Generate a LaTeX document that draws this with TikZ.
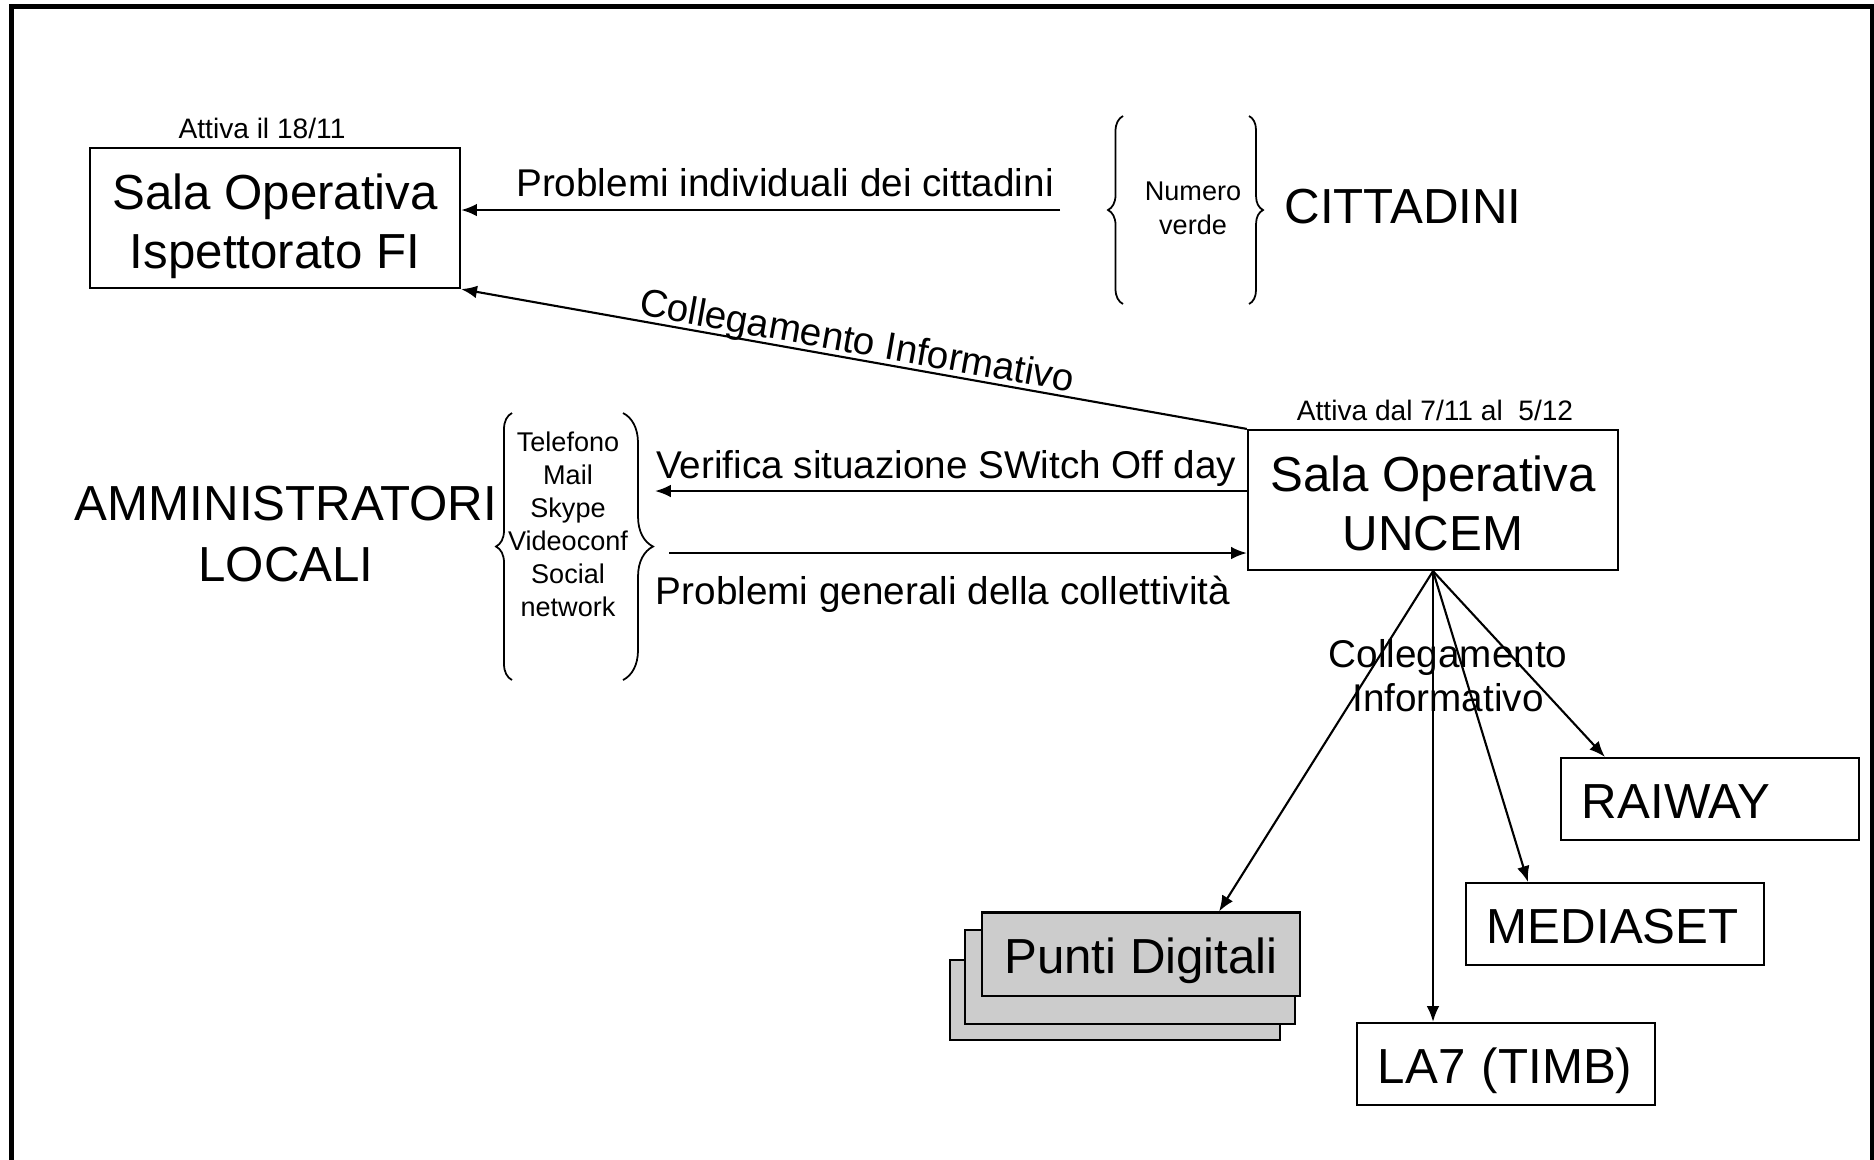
\documentclass[tikz,border=0pt]{standalone}
\usepackage{fontspec}
\setmainfont{Liberation Sans}
\usetikzlibrary{positioning,arrows.meta,decorations.pathreplacing}

\begin{document}
\begin{tikzpicture}[x=0.01cm,y=-0.01cm]
\tikzstyle{sala}=[rectangle, draw=black, line width=0.6pt, minimum width=3.7cm, minimum height=1.4cm, align=center, inner sep=0pt, text height=28.9pt, text depth=0pt, font=\fontsize{14}{17}\selectfont]
\tikzstyle{rete}=[rectangle, draw=black, line width=0.6pt, minimum height=0.82cm, text width=2.56cm, inner xsep=0.21cm, inner ysep=0pt, text height=10.8pt, text depth=0pt, align=left, font=\fontsize{14}{17}\selectfont]
\tikzstyle{punti}=[rectangle, draw=black, fill=black!20, line width=0.6pt, inner sep=0pt, text height=10.8pt, text depth=0pt, font=\fontsize{14}{17}\selectfont]
\tikzstyle{connect}=[-{Latex[length=4.5pt,width=3.6pt]}, line width=0.6pt]
\tikzstyle{big}=[align=center, inner sep=0pt, font=\fontsize{14}{17.3}\selectfont]
\tikzstyle{mid}=[align=center, inner sep=0pt, font=\fontsize{11}{12.5}\selectfont]
\tikzstyle{small}=[align=center, inner sep=0pt, font=\fontsize{7.7}{9.6}\selectfont]
\tikzstyle{graffa}=[decorate, line width=0.5pt]
  \useasboundingbox (0,0) rectangle (1874,1159);
  \draw[line width=1.4pt] (11.5,1180) -- (11.5,6.5) -- (1872.5,6.5) -- (1872.5,1180);

  % sale operative
  \node[sala] (isp) at (275,218) {Sala Operativa\\Ispettorato FI};
  \node[sala] (uncem) at (1433,500) {Sala Operativa\\UNCEM};
  \node[small, font=\fontsize{8}{10}\selectfont] (attiva1) at (262,128) {Attiva il 18/11};
  \node[small, font=\fontsize{8}{10}\selectfont] (attiva2) at (1435,410) {Attiva dal 7/11 al~ 5/12};

  % cittadini
  \node[small] (numero) at (1193,208) {Numero\\verde};
  \node[big] (citt) at (1403,207) {CITTADINI};
  \draw[graffa, decoration={brace, amplitude=0.15cm}] (1123,304) -- (1123,116);
  \draw[graffa, decoration={brace, amplitude=0.14cm}] (1249,116) -- (1249,304);

  % amministratori
  \node[big] (ammin) at (286,534) {AMMINISTRATORI\\LOCALI};
  \node[small, font=\fontsize{7.7}{9.4}\selectfont] (mezzi) at (568,524) {Telefono\\Mail\\Skype\\Videoconf\\Social\\network};
  \draw[graffa, decoration={brace, amplitude=0.16cm}] (512,680) -- (512,413);
  \draw[graffa, decoration={brace, amplitude=0.3cm}] (623,413) -- (623,680);

  % reti
  \node[rete] (rai) at (1710,799) {RAIWAY};
  \node[rete] (media) at (1615,924) {MEDIASET};
  \node[rete] (la7) at (1506,1064) {LA7 (TIMB)};
  \node[punti, minimum width=3.3cm, minimum height=0.8cm] (pd3) at (1115,1000) {};
  \node[punti, minimum width=3.29cm, minimum height=0.94cm] (pd2) at (1130,977) {};
  \node[punti, minimum width=3.18cm, minimum height=0.83cm] (pd1) at (1141,954) {Punti Digitali};

  % collegamenti
  \coordinate (cittadini) at (1060,210);
  \coordinate (verifica) at (655,491);
  \coordinate (generali) at (669,553);
  \draw[connect] (uncem.north west) -- node[mid, sloped, above=-1pt] (colleg1) {Collegamento Informativo} (isp.south east);
  \path (cittadini) edge [connect] (cittadini -| isp.east)
        (uncem.west |- verifica) edge [connect] (verifica)
        (generali) edge [connect] (generali -| uncem.west)
        (uncem.south) edge [connect] ([xshift=0.78cm]pd1.north)
        (uncem.south) edge [connect] (uncem.south |- la7.north)
        (uncem.south) edge [connect] ([xshift=0.63cm]media.north west)
        (uncem.south) edge [connect] ([xshift=0.45cm]rai.north west);

  \node[mid] (lcitt) at (785,183) {Problemi individuali dei cittadini};
  \node[mid] (lverif) at (946,468) {Verifica situazione SWitch Off day};
  \node[mid] (lgen) at (943,594) {Problemi generali della collettività};
  \node[mid] (colleg2) at (1448,676) {Collegamento\\Informativo};
\end{tikzpicture}
\end{document}
